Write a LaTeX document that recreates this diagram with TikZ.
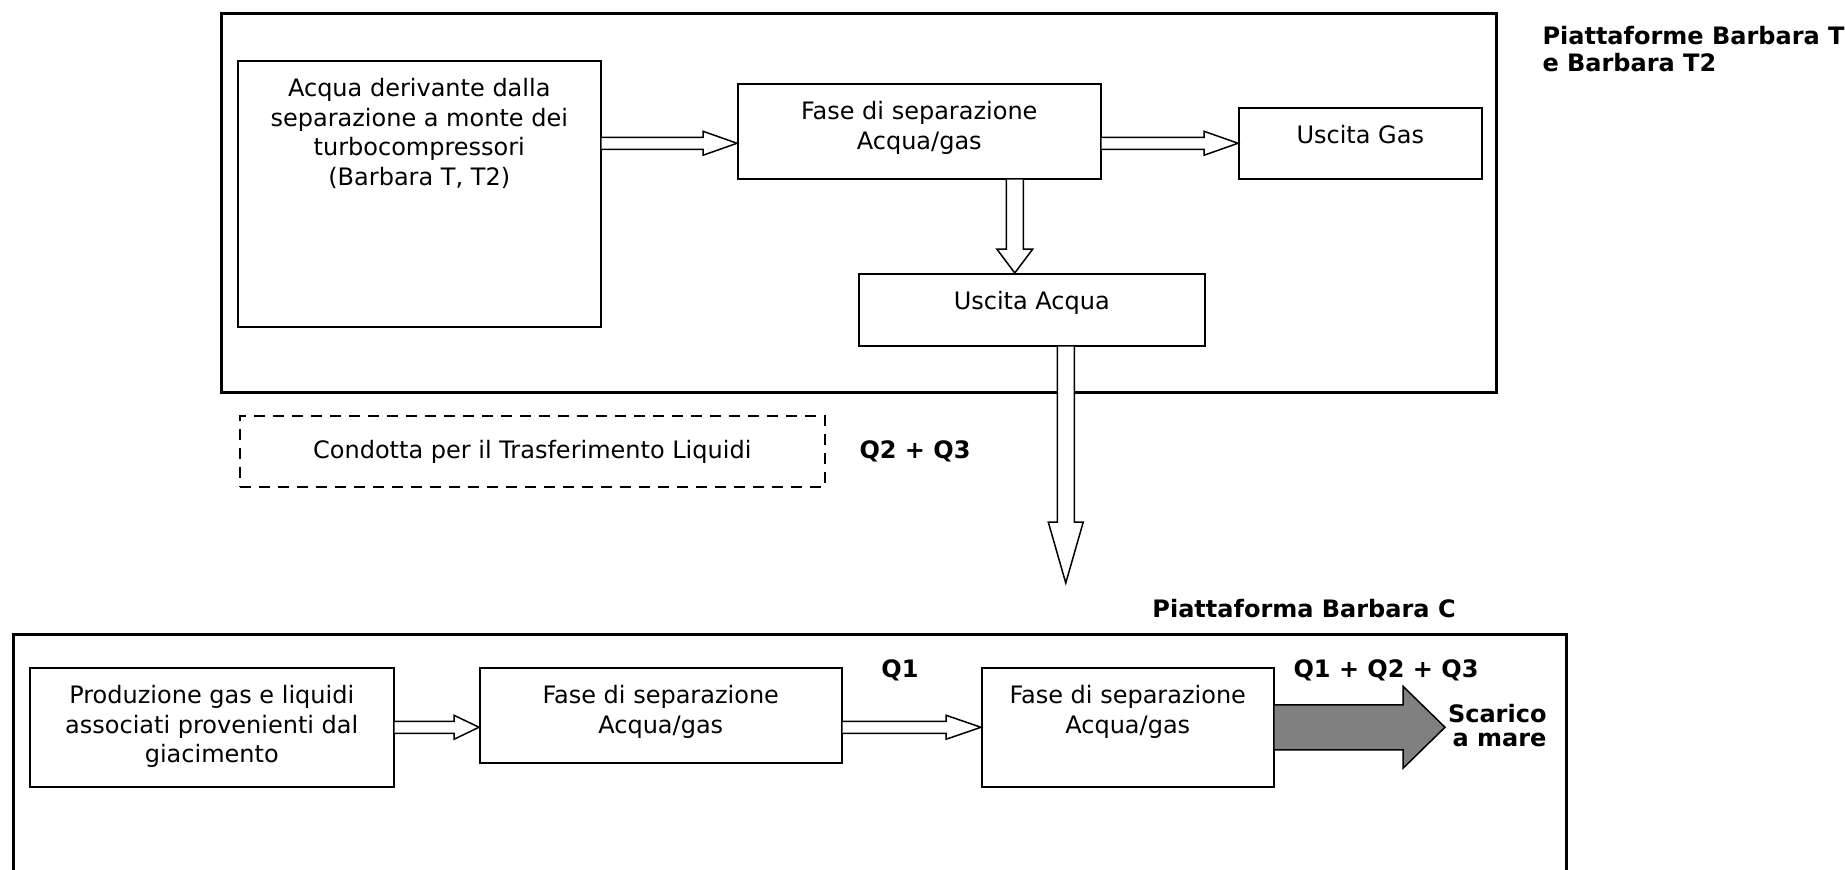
\documentclass[tikz,border=0pt]{standalone}
\usepackage{fontspec}
\setmainfont{DejaVu Sans}
\usetikzlibrary{calc}

\tikzset{
	frame/.style={draw, line width=1.2pt},
	box/.style={draw, line width=0.6pt, anchor=north west, inner sep=0pt},
	txt/.style={align=center, inner sep=0pt, anchor=north, font=\fontsize{9.6}{11.8}\selectfont},
	lbl/.style={inner sep=0pt, font=\bfseries\fontsize{9.6}{10.8}\selectfont},
	hollow/.style={draw, line width=0.6pt, fill=white}
}

% horizontal block arrow: [style]{start}{tip}{shaft half}{head half}{head length}
\newcommand{\harrow}[6][]{%
	\draw[hollow,#1] let \p1=(#2), \p2=(#3) in
		(\x1,\y1+#4) -- (\x2-#6,\y1+#4) -- (\x2-#6,\y1+#5) -- (\x2,\y1)
		-- (\x2-#6,\y1-#5) -- (\x2-#6,\y1-#4) -- (\x1,\y1-#4);}
% vertical block arrow: {start}{tip}{shaft half}{head half}{head length}
\newcommand{\varrow}[5]{%
	\draw[hollow] let \p1=(#1), \p2=(#2) in
		(\x1-#3,\y1) -- (\x1-#3,\y2+#5) -- (\x1-#4,\y2+#5) -- (\x1,\y2)
		-- (\x1+#4,\y2+#5) -- (\x1+#3,\y2+#5) -- (\x1+#3,\y1);}

\begin{document}
\begin{tikzpicture}[x=0.4pt, y=0.4pt]
	\useasboundingbox (0,0) rectangle (1845,-869);

	% Barbara T / T2
	\draw[frame] (221,-13) rectangle (1496,-392);
	\node[box, minimum width=145.2pt, minimum height=106.4pt] (acq) at (237,-60) {};
	\node[box, minimum width=145.2pt, minimum height=38pt] (sep1) at (737,-83) {};
	\node[box, minimum width=97.2pt, minimum height=28.4pt] (gas) at (1238,-107) {};
	\node[box, minimum width=138.4pt, minimum height=28.8pt] (usc) at (858,-273) {};
	\node[txt] (tacq) at ([yshift=-7.2pt]acq.north) {Acqua derivante dalla\\separazione a monte dei\\turbocompressori\\(Barbara T, T2)};
	\node[txt] (tsep1) at ([yshift=-7.2pt]sep1.north) {Fase di separazione\\Acqua/gas};
	\node[txt] (tgas) at ([yshift=-7.2pt]gas.north) {Uscita Gas};
	\node[txt] (tusc) at ([yshift=-7.2pt]usc.north) {Uscita Acqua};
	\node[lbl, anchor=north west, align=left] (piatT) at (1542,-26) {Piattaforme Barbara T\\e Barbara T2};

	% condotta
	\node[box, dash pattern=on 4.4pt off 3.2pt, minimum width=234pt, minimum height=28.4pt] (cond) at (239,-415) {};
	\node[txt] (tcond) at ([yshift=-10pt]cond.north) {Condotta per il Trasferimento Liquidi};
	\node[lbl, anchor=north] (q23) at (915,-440) {Q2 + Q3};

	% Barbara C
	\draw[frame] (13,-880) |- (1566,-634) -- (1566,-880);
	\node[lbl, anchor=north] (piatC) at (1304,-599) {Piattaforma Barbara C};
	\node[box, minimum width=145.6pt, minimum height=47.6pt] (prod) at (29,-667) {};
	\node[box, minimum width=144.8pt, minimum height=38pt] (sep2) at (479,-667) {};
	\node[box, minimum width=116.8pt, minimum height=47.6pt] (sep3) at (981,-667) {};
	\node[txt] (tprod) at ([yshift=-7.2pt]prod.north) {Produzione gas e liquidi\\associati provenienti dal\\giacimento};
	\node[txt] (tsep2) at ([yshift=-7.2pt]sep2.north) {Fase di separazione\\Acqua/gas};
	\node[txt] (tsep3) at ([yshift=-7.2pt]sep3.north) {Fase di separazione\\Acqua/gas};
	\node[lbl, anchor=north] (q1) at (900,-659) {Q1};
	\node[lbl, anchor=north] (q123) at (1386,-659) {Q1 + Q2 + Q3};
	\node[lbl, anchor=north east, align=right, font=\bfseries\fontsize{9.6}{9.6}\selectfont] (mare) at (1547,-704) {Scarico\\a mare};

	% block arrows
	\coordinate (dtop) at ([xshift=-6.8pt]usc.north);
	\coordinate (dbot) at ([xshift=13.6pt]usc.south);
	\coordinate (pipe) at (1065,-583);
	\coordinate (sea) at (1445,-726.5);
	\harrow{acq.east |- gas.west}{sep1.west |- gas.west}{2.4pt}{4.8pt}{13.6pt}
	\harrow{sep1.east |- gas.west}{gas.west}{2.4pt}{4.8pt}{13.6pt}
	\varrow{dtop |- sep1.south}{dtop}{3.4pt}{7.2pt}{9.6pt}
	\varrow{dbot}{pipe}{3.4pt}{7pt}{24.4pt}
	\harrow{prod.east}{sep2.west |- prod.east}{2.4pt}{4.8pt}{10pt}
	\harrow{sep2.east |- sep3.west}{sep3.west}{2.4pt}{4.8pt}{14pt}
	\harrow[fill=black!50]{sep3.east}{sea}{9pt}{16.4pt}{16.8pt}
\end{tikzpicture}
\end{document}
